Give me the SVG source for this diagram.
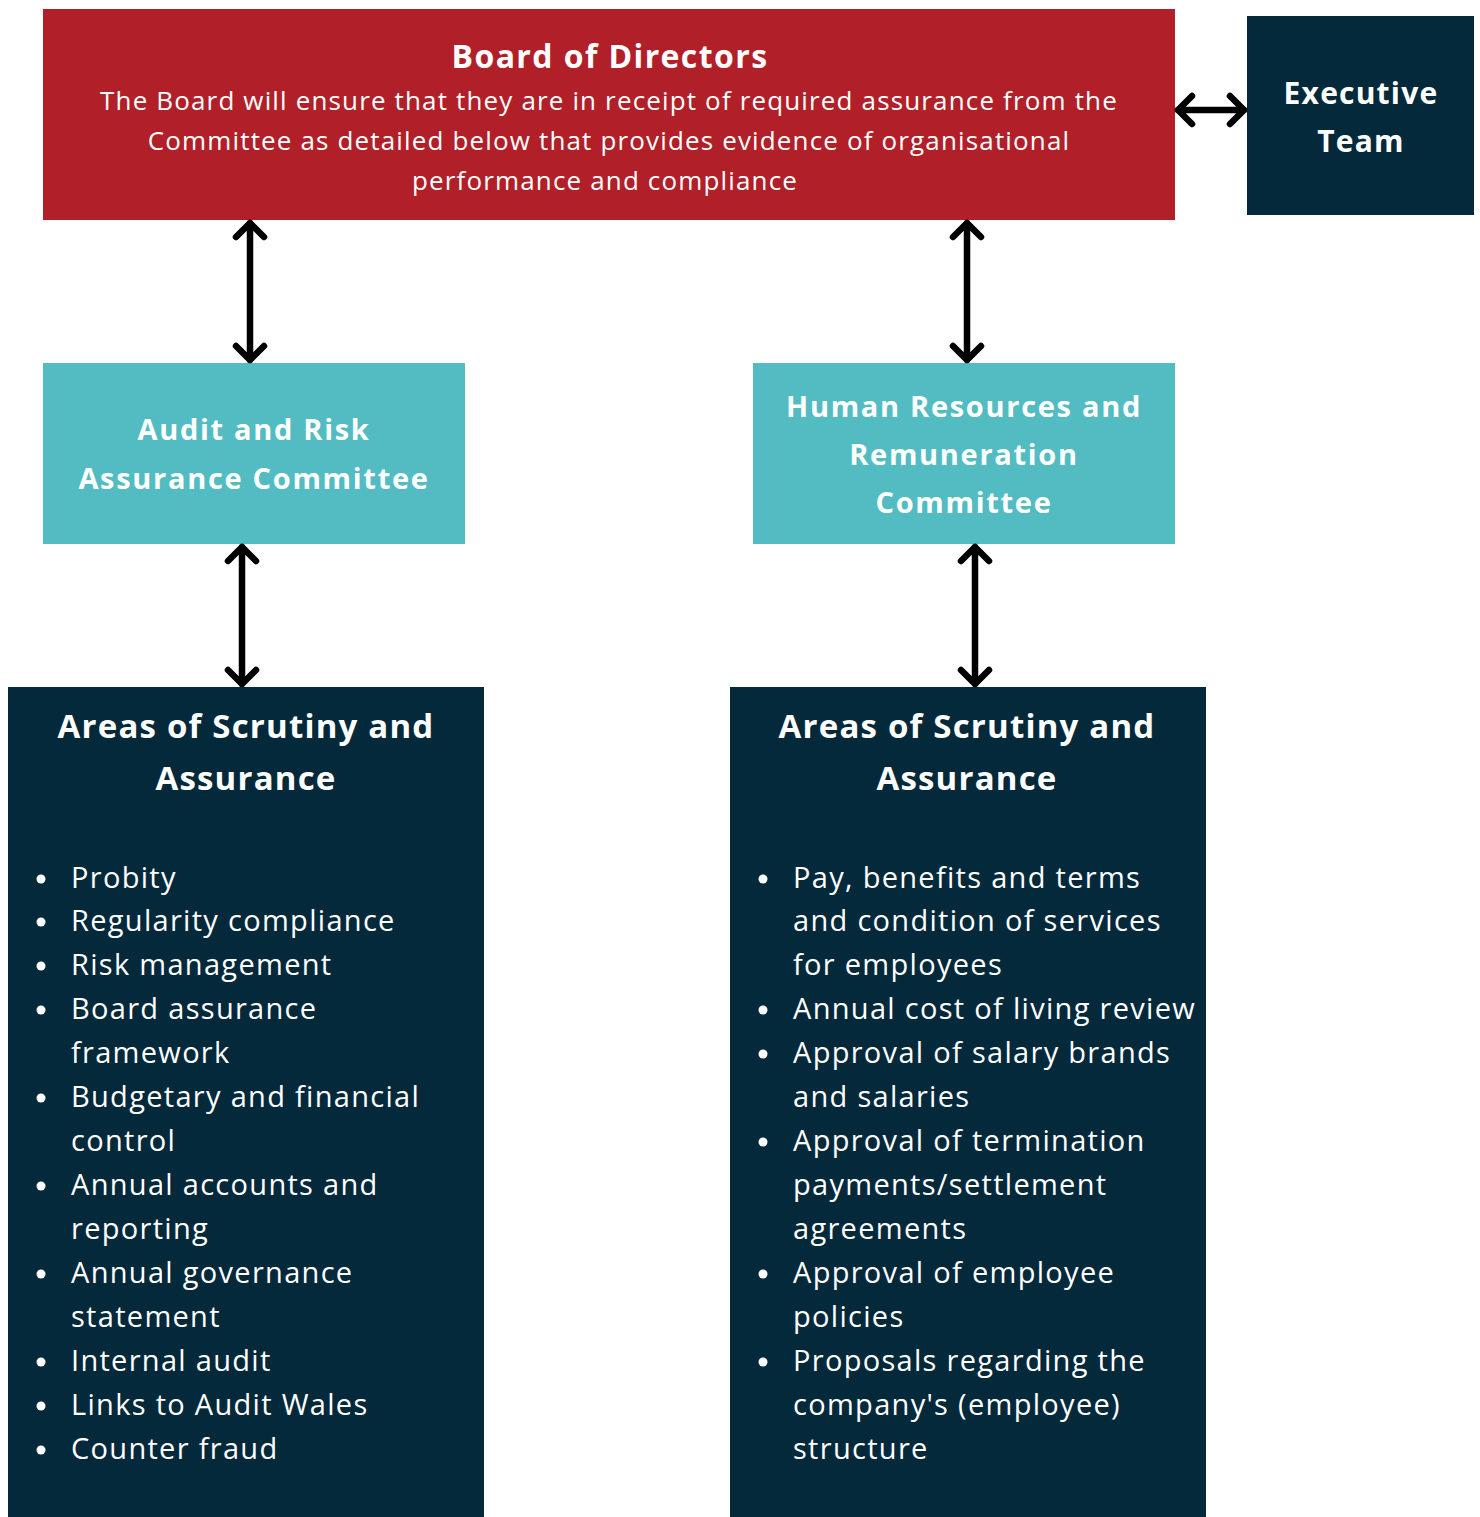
<svg xmlns="http://www.w3.org/2000/svg" width="1480" height="1517" viewBox="0 0 1480 1517">
  <style>
    .board { fill: #b11f29; }
    .navy { fill: #04293b; }
    .teal { fill: #52bcc2; }
    text { font-family: "Open Sans", Lato, sans-serif; fill: #ffffff; }
    .title { font-weight: 700; text-anchor: middle; letter-spacing: 1.2px; }
    .committee { letter-spacing: 1.7px; }
    .body { font-size: 26px; text-anchor: middle; letter-spacing: 1.15px; }
    .item { font-size: 29px; letter-spacing: 1.3px; }
    .bullet { fill: #ffffff; }
    .link { stroke: #000000; stroke-width: 6.5; fill: none; stroke-linecap: round; stroke-linejoin: round; }
  </style>

  <rect width="1480" height="1517" fill="#ffffff"/>

  <g id="board">
    <rect class="board" x="43" y="9" width="1132" height="211"/>
    <text class="title" x="610" y="68" font-size="32" style="letter-spacing:1.4px">Board of Directors</text>
    <text class="body" x="609" y="110">The Board will ensure that they are in receipt of required assurance from the</text>
    <text class="body" x="609" y="150">Committee as detailed below that provides evidence of organisational</text>
    <text class="body" x="605" y="190">performance and compliance</text>
  </g>

  <g id="executive-team">
    <rect class="navy" x="1247" y="16" width="227" height="199"/>
    <text class="title" x="1361" y="104" font-size="30">Executive</text>
    <text class="title" x="1361" y="152" font-size="30">Team</text>
  </g>

  <g id="audit-committee">
    <rect class="teal" x="43" y="363" width="422" height="181"/>
    <text class="title committee" x="254" y="440" font-size="29">Audit and Risk</text>
    <text class="title committee" x="254" y="489" font-size="29">Assurance Committee</text>
  </g>

  <g id="hr-committee">
    <rect class="teal" x="753" y="363" width="422" height="181"/>
    <text class="title committee" x="964" y="417" font-size="29">Human Resources and</text>
    <text class="title committee" x="964" y="465" font-size="29">Remuneration</text>
    <text class="title committee" x="964" y="513" font-size="29">Committee</text>
  </g>

  <g id="audit-areas">
    <rect class="navy" x="8" y="687" width="476" height="830"/>
    <text class="title" x="246" y="738" font-size="33">Areas of Scrutiny and</text>
    <text class="title" x="246" y="790" font-size="33">Assurance</text>
    <g class="bullet">
      <circle cx="41" cy="879" r="4.5"/>
      <circle cx="41" cy="922" r="4.5"/>
      <circle cx="41" cy="966" r="4.5"/>
      <circle cx="41" cy="1010" r="4.5"/>
      <circle cx="41" cy="1098" r="4.5"/>
      <circle cx="41" cy="1186" r="4.5"/>
      <circle cx="41" cy="1274" r="4.5"/>
      <circle cx="41" cy="1362" r="4.5"/>
      <circle cx="41" cy="1406" r="4.5"/>
      <circle cx="41" cy="1450" r="4.5"/>
    </g>
    <g class="item">
      <text x="71" y="888">Probity</text>
      <text x="71" y="931">Regularity compliance</text>
      <text x="71" y="975">Risk management</text>
      <text x="71" y="1019">Board assurance</text>
      <text x="71" y="1063">framework</text>
      <text x="71" y="1107">Budgetary and financial</text>
      <text x="71" y="1151">control</text>
      <text x="71" y="1195">Annual accounts and</text>
      <text x="71" y="1239">reporting</text>
      <text x="71" y="1283">Annual governance</text>
      <text x="71" y="1327">statement</text>
      <text x="71" y="1371">Internal audit</text>
      <text x="71" y="1415">Links to Audit Wales</text>
      <text x="71" y="1459">Counter fraud</text>
    </g>
  </g>

  <g id="hr-areas">
    <rect class="navy" x="730" y="687" width="476" height="830"/>
    <text class="title" x="967" y="738" font-size="33">Areas of Scrutiny and</text>
    <text class="title" x="967" y="790" font-size="33">Assurance</text>
    <g class="bullet">
      <circle cx="763" cy="879" r="4.5"/>
      <circle cx="763" cy="1010" r="4.5"/>
      <circle cx="763" cy="1054" r="4.5"/>
      <circle cx="763" cy="1142" r="4.5"/>
      <circle cx="763" cy="1274" r="4.5"/>
      <circle cx="763" cy="1362" r="4.5"/>
    </g>
    <g class="item">
      <text x="793" y="888">Pay, benefits and terms</text>
      <text x="793" y="931">and condition of services</text>
      <text x="793" y="975">for employees</text>
      <text x="793" y="1019">Annual cost of living review</text>
      <text x="793" y="1063">Approval of salary brands</text>
      <text x="793" y="1107">and salaries</text>
      <text x="793" y="1151">Approval of termination</text>
      <text x="793" y="1195">payments/settlement</text>
      <text x="793" y="1239">agreements</text>
      <text x="793" y="1283">Approval of employee</text>
      <text x="793" y="1327">policies</text>
      <text x="793" y="1371">Proposals regarding the</text>
      <text x="793" y="1415">company's (employee)</text>
      <text x="793" y="1459">structure</text>
    </g>
  </g>

  <g id="connectors">
    <!-- Board <-> Executive Team -->
    <path class="link" d="M1178 110 H1244 M1192 96 L1178 110 L1192 124 M1230 96 L1244 110 L1230 124"/>
    <!-- Board <-> Audit and Risk -->
    <path class="link" d="M250 223 V360 M236 237 L250 223 L264 237 M236 346 L250 360 L264 346"/>
    <!-- Board <-> HR and Remuneration -->
    <path class="link" d="M967 223 V360 M953 237 L967 223 L981 237 M953 346 L967 360 L981 346"/>
    <!-- Audit and Risk <-> its areas -->
    <path class="link" d="M242 547 V684 M228 561 L242 547 L256 561 M228 670 L242 684 L256 670"/>
    <!-- HR and Remuneration <-> its areas -->
    <path class="link" d="M975 547 V684 M961 561 L975 547 L989 561 M961 670 L975 684 L989 670"/>
  </g>
</svg>
